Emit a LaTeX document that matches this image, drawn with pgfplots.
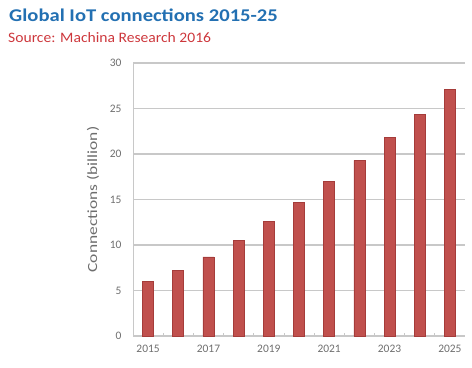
\documentclass[border=0pt]{standalone}
\usepackage{pgfplots}
\pgfplotsset{compat=1.18}
\usepackage{fontspec}
\setmainfont{Carlito}
\definecolor{titleblue}{RGB}{35,112,178}
\definecolor{srcred}{RGB}{205,55,60}
\definecolor{barred}{RGB}{192,80,77}
\definecolor{barborder}{RGB}{165,60,58}
\definecolor{tickgray}{RGB}{110,110,110}
\definecolor{gridgray}{RGB}{200,200,200}
\begin{document}
\begin{tikzpicture}
\path[use as bounding box] (-133bp,-32bp) rectangle (339bp,336bp);
\begin{axis}[
  at={(0,0)}, anchor=south west,
  scale only axis,
  width=332bp, height=273bp,
  xmin=-0.5, xmax=10.5,
  ymin=0, ymax=30,
  ytick={0,5,...,30},
  xtick={0,2,4,6,8,10},
  xticklabels={2015,2017,2019,2021,2023,2025},
  extra x ticks={-0.5,0.5,1.5,...,9.5},
  extra x tick labels={},
  extra x tick style={grid=none, major tick length=3bp, tick style={gridgray, line width=0.8pt}},
  major tick length=0pt,
  axis x line*=bottom,
  axis y line*=left,
  axis line style={gridgray, line width=1pt, -},
  ymajorgrids,
  grid style={gridgray, line width=1.2pt},
  tick label style={font=\fontsize{11.5}{13}\selectfont, text=tickgray},
  yticklabel style={xshift=-8bp},
  xticklabel style={yshift=-6bp},
  ylabel={\scalebox{1.25}[1]{Connections (billion)}},
  ylabel style={font=\fontsize{14}{16}\selectfont, text=tickgray, at={(rel axis cs:0,0.5)}, anchor=center, yshift=40bp},
  /pgf/number format/assume math mode=true,
  clip=false,
]
\addplot[ybar, bar width=11bp, fill=barred, draw=barborder, line width=0.6pt]
  coordinates {(0,6.0) (1,7.25) (2,8.7) (3,10.5) (4,12.6) (5,14.7) (6,16.95) (7,19.3) (8,21.8) (9,24.35) (10,27.1)};
\end{axis}
\node[anchor=base west, inner sep=0pt, text=titleblue, font=\fontsize{18}{20}\selectfont\bfseries] at (-124bp,314.5bp) {\scalebox{1.15}[1]{Global IoT connections 2015-25}};
\node[anchor=base west, inner sep=0pt, text=srcred, font=\fontsize{14.5}{16}\selectfont] at (-125bp,293bp) {\scalebox{1.08}[1]{Source: Machina Research 2016}};
\end{tikzpicture}
\end{document}
